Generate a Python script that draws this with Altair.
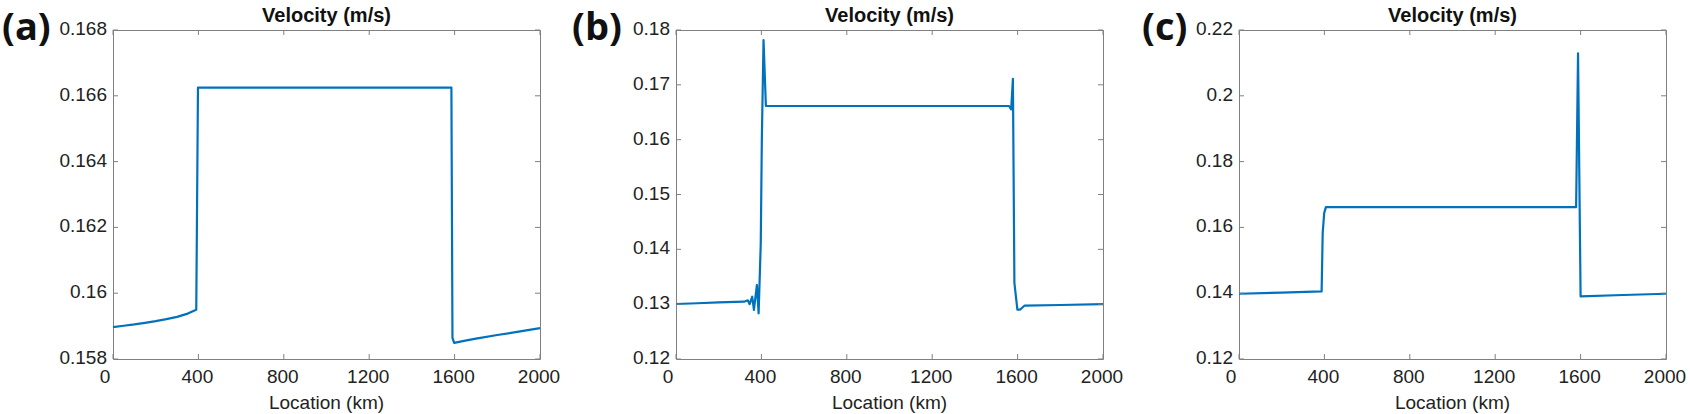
import altair as alt
import pandas as pd

# ---------------- data ----------------
x_ticks = [0, 400, 800, 1200, 1600, 2000]

a_x = [0, 50, 100, 150, 200, 250, 300, 350, 390, 398, 1585, 1590, 1598, 1650, 1700, 1800, 1900, 2000]
a_v = [0.15897, 0.15901, 0.15905, 0.15910, 0.15915, 0.15921, 0.15928, 0.15938, 0.15950,
       0.16625, 0.16625, 0.15864, 0.15849, 0.15856, 0.15862, 0.15873, 0.15883, 0.15894]
a_yticks = [0.158, 0.16, 0.162, 0.164, 0.166, 0.168]

b_x = [0, 100, 200, 319, 336, 345, 357, 365, 379, 387, 397, 402, 410, 421,
       1560, 1570, 1578, 1585, 1599, 1611, 1633, 1800, 2000]
b_v = [0.13003, 0.13017, 0.13031, 0.13045, 0.13070, 0.13000, 0.13136, 0.12894,
       0.13350, 0.12833, 0.14110, 0.15990, 0.17818, 0.16614,
       0.16614, 0.16553, 0.17110, 0.13390, 0.12899, 0.12899, 0.12975, 0.12985, 0.13002]
b_yticks = [0.12, 0.13, 0.14, 0.15, 0.16, 0.17, 0.18]

c_x = [0, 200, 387, 392, 399, 407, 1579, 1588, 1600, 1800, 2000]
c_v = [0.13984, 0.14020, 0.14055, 0.15826, 0.16433, 0.16615, 0.16615, 0.21291,
       0.13903, 0.13945, 0.13984]
c_yticks = [0.12, 0.14, 0.16, 0.18, 0.2, 0.22]

panel_title = "Velocity (m/s)"
x_title = "Location (km)"
letters = ["(a)", "(b)", "(c)"]

W, H = 427, 329
FRAME = "#808080"
BLUE = "#0072BD"
TXT = "#222222"
FONT = "Liberation Sans"
FS = 19
TL = 5  # inward tick length


def panel(xs, vs, ydom, yticks, letter, letter_x, left_anchor=False, right_anchor=False):
    df = pd.DataFrame({"x": xs, "v": vs})
    xsc = alt.Scale(domain=[0, 2000], nice=False, zero=False)
    ysc = alt.Scale(domain=ydom, nice=False, zero=False)

    line = alt.Chart(df).mark_line(color=BLUE, strokeWidth=2.2, strokeJoin="round").encode(
        x=alt.X("x:Q", scale=xsc, axis=None),
        y=alt.Y("v:Q", scale=ysc, axis=None),
    )

    ytk = pd.DataFrame({"t": yticks, "lab": [format(t, "g") for t in yticks]})
    xtk = pd.DataFrame({"t": x_ticks, "lab": [str(t) for t in x_ticks]})

    left = alt.Chart(ytk).mark_rule(color=FRAME, strokeWidth=1).encode(
        y=alt.Y("t:Q", scale=ysc, axis=None), x=alt.value(0), x2=alt.value(TL))
    right = alt.Chart(ytk).mark_rule(color=FRAME, strokeWidth=1).encode(
        y=alt.Y("t:Q", scale=ysc, axis=None), x=alt.value(W - TL), x2=alt.value(W))
    bottom = alt.Chart(xtk).mark_rule(color=FRAME, strokeWidth=1).encode(
        x=alt.X("t:Q", scale=xsc, axis=None), y=alt.value(H - TL), y2=alt.value(H))
    top = alt.Chart(xtk).mark_rule(color=FRAME, strokeWidth=1).encode(
        x=alt.X("t:Q", scale=xsc, axis=None), y=alt.value(0), y2=alt.value(TL))

    ylab = alt.Chart(ytk).mark_text(
        font=FONT, fontSize=FS, color=TXT, align="right", baseline="middle", dy=-1).encode(
        y=alt.Y("t:Q", scale=ysc, axis=None), x=alt.value(-6), text="lab:N")
    xlab0 = alt.Chart(xtk).transform_filter("datum.t == 0").mark_text(
        font=FONT, fontSize=FS, color=TXT, align="center", baseline="alphabetic", dx=-8).encode(
        x=alt.X("t:Q", scale=xsc, axis=None), y=alt.value(H + 24), text="lab:N")
    xlab = alt.Chart(xtk).transform_filter("datum.t != 0").mark_text(
        font=FONT, fontSize=FS, color=TXT, align="center", baseline="alphabetic", dx=-1).encode(
        x=alt.X("t:Q", scale=xsc, axis=None), y=alt.value(H + 24), text="lab:N")
    xttl = alt.Chart(pd.DataFrame({"s": [x_title]})).mark_text(
        font=FONT, fontSize=FS, color=TXT, align="center", baseline="alphabetic").encode(
        text="s:N", x=alt.value(W / 2), y=alt.value(H + 50))

    title = alt.Chart(pd.DataFrame({"s": [panel_title]})).mark_text(
        font=FONT, fontWeight="bold", fontSize=20, color="#111",
        baseline="alphabetic", align="center").encode(
        text="s:N", x=alt.value(W / 2), y=alt.value(-8))

    lab = alt.Chart(pd.DataFrame({"s": [letter]})).mark_text(
        font="Open Sans", fontWeight="bold", fontSize=38, color="#111",
        baseline="alphabetic", align="left").encode(
        text="s:N", x=alt.value(letter_x), y=alt.value(10))

    layers = [line, left, right, bottom, top, ylab, xlab0, xlab, xttl, title, lab]
    anchor_df = pd.DataFrame({"d": [0]})
    if left_anchor:
        layers.append(alt.Chart(anchor_df).mark_rule(opacity=0, strokeWidth=1).encode(
            x=alt.value(-112.5), y=alt.value(-29.5), y2=alt.value(H + 54.5)))
    if right_anchor:
        layers.append(alt.Chart(anchor_df).mark_rule(opacity=0, strokeWidth=1).encode(
            x=alt.value(W + 23.5), y=alt.value(-29.5), y2=alt.value(H + 54.5)))
    return alt.layer(*layers).properties(width=W, height=H)


pa = panel(a_x, a_v, [0.158, 0.168], a_yticks, letters[0], -111, left_anchor=True)
pb = panel(b_x, b_v, [0.12, 0.18], b_yticks, letters[1], -104)
pc = panel(c_x, c_v, [0.12, 0.22], c_yticks, letters[2], -97, right_anchor=True)

chart = alt.hconcat(pa, pb, pc, spacing=136, bounds="flush").properties(
    padding=0, background="white"
).configure_view(
    stroke=FRAME, strokeWidth=1
)

chart.save("out.html", embed_options={"renderer": "svg", "actions": False})
